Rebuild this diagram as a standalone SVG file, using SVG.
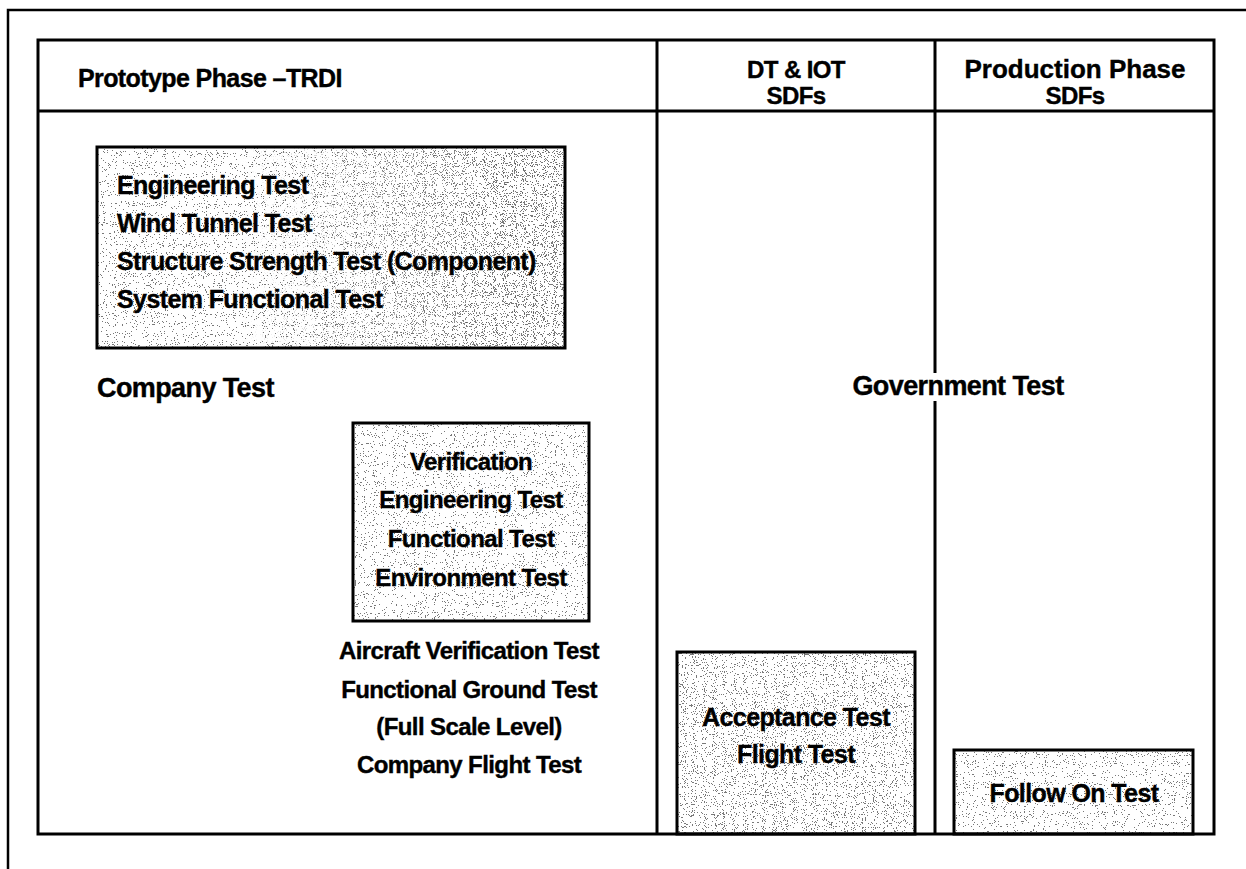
<svg xmlns="http://www.w3.org/2000/svg" width="1246" height="869" viewBox="0 0 1246 869">
  <style>
    .t { font-family: "Liberation Sans", Arial, Helvetica, sans-serif; font-weight: bold; fill: #000; stroke: #000; stroke-width: 0.4px; letter-spacing: -0.6px; }
    .s25 { font-size: 25px; }
    .s24 { font-size: 24px; }
    .s27 { font-size: 27px; }
    .wide { font-size: 26px; letter-spacing: 0; }
    .mid { text-anchor: middle; }
    .frame { fill: none; stroke: #000; stroke-width: 2.5; }
    .grid { fill: none; stroke: #000; stroke-width: 3; }
    .box { fill: none; stroke: #000; stroke-width: 3; }
    .paper { fill: #fff; }
    .light { fill: #fff; filter: url(#stipple-light); }
    .dense { fill: #fff; filter: url(#stipple-dense); }
  </style>
  <defs>
    <!-- sparse grey speckle: halftone fill of the shaded boxes -->
    <filter id="stipple-light" x="0" y="0" width="1" height="1" filterUnits="objectBoundingBox" color-interpolation-filters="sRGB">
      <feTurbulence type="fractalNoise" baseFrequency="0.9" numOctaves="2" seed="11" result="noise"/>
      <feColorMatrix in="noise" type="matrix"
        values="0 0 0 0 0.3
                0 0 0 0 0.3
                0 0 0 0 0.3
                -5 0 0 0 2.1" result="mask"/>
      <feComponentTransfer in="mask">
        <feFuncA type="discrete" tableValues="0 0.75"/>
      </feComponentTransfer>
    </filter>
    <!-- heavier speckle for the darker patches -->
    <filter id="stipple-dense" x="0" y="0" width="1" height="1" filterUnits="objectBoundingBox" color-interpolation-filters="sRGB">
      <feTurbulence type="fractalNoise" baseFrequency="0.9" numOctaves="2" seed="29" result="noise"/>
      <feColorMatrix in="noise" type="matrix"
        values="0 0 0 0 0.3
                0 0 0 0 0.3
                0 0 0 0 0.3
                -5 0 0 0 2.3" result="mask"/>
      <feComponentTransfer in="mask">
        <feFuncA type="discrete" tableValues="0 0.75"/>
      </feComponentTransfer>
    </filter>
    <linearGradient id="fade-lr" x1="0" y1="0" x2="1" y2="0">
      <stop offset="0.3" stop-color="#fff" stop-opacity="0"/>
      <stop offset="0.85" stop-color="#fff" stop-opacity="1"/>
    </linearGradient>
    <mask id="toward-right" maskContentUnits="objectBoundingBox">
      <rect width="1" height="1" fill="url(#fade-lr)"/>
    </mask>
  </defs>

  <rect width="1246" height="869" fill="#fff"/>

  <!-- page frame -->
  <g id="page-frame">
    <polyline class="frame" points="8,869 8,10 1246,10"/>
  </g>

  <!-- shaded boxes (drawn first so the grid lines sit on top) -->
  <g id="box-engineering">
    <rect class="paper" x="97" y="147" width="468" height="201"/>
    <rect class="light" x="97" y="147" width="468" height="201"/>
    <rect class="dense" x="97" y="147" width="468" height="201" mask="url(#toward-right)"/>
    <rect class="box" x="97" y="147" width="468" height="201"/>
    <text class="t s25" x="117" y="194">Engineering Test</text>
    <text class="t s25" x="117" y="232">Wind Tunnel Test</text>
    <text class="t s25" x="117" y="270">Structure Strength Test (Component)</text>
    <text class="t s25" x="117" y="308">System Functional Test</text>
  </g>

  <g id="box-verification">
    <rect class="paper" x="353" y="423" width="236" height="198"/>
    <rect class="light" x="353" y="423" width="236" height="198"/>
    <rect class="box" x="353" y="423" width="236" height="198"/>
    <text class="t s24 mid" x="471" y="470">Verification</text>
    <text class="t s24 mid" x="471" y="508">Engineering Test</text>
    <text class="t s24 mid" x="471" y="547">Functional Test</text>
    <text class="t s24 mid" x="471" y="586">Environment Test</text>
  </g>

  <g id="box-acceptance">
    <rect class="paper" x="677" y="652" width="238" height="182"/>
    <rect class="dense" x="677" y="652" width="238" height="182"/>
    <rect class="box" x="677" y="652" width="238" height="182"/>
    <text class="t s25 mid" x="796" y="726">Acceptance Test</text>
    <text class="t s25 mid" x="796" y="763">Flight Test</text>
  </g>

  <g id="box-follow-on">
    <rect class="paper" x="954" y="750" width="239" height="84"/>
    <rect class="light" x="954" y="750" width="239" height="84"/>
    <rect class="box" x="954" y="750" width="239" height="84"/>
    <text class="t s25 mid" x="1074" y="802">Follow On Test</text>
  </g>

  <!-- table grid -->
  <g id="connectors">
    <rect class="grid" x="38" y="40" width="1176" height="794"/>
    <line class="grid" x1="38" y1="111" x2="1214" y2="111"/>
    <line class="grid" x1="657" y1="40" x2="657" y2="834"/>
    <line class="grid" x1="935" y1="40" x2="935" y2="834"/>
  </g>

  <!-- column headings -->
  <g id="head-prototype">
    <text class="t s25" x="78" y="87">Prototype Phase –TRDI</text>
  </g>
  <g id="head-dt-iot">
    <text class="t s24 mid" x="796" y="78">DT &amp; IOT</text>
    <text class="t s24 mid" x="796" y="104">SDFs</text>
  </g>
  <g id="head-production">
    <text class="t wide mid" x="1075" y="78">Production Phase</text>
    <text class="t s24 mid" x="1075" y="104">SDFs</text>
  </g>

  <!-- free labels -->
  <g id="label-company">
    <text class="t s27" x="97" y="397">Company Test</text>
  </g>
  <g id="label-government">
    <rect class="paper" x="926" y="373" width="18" height="28"/>
    <text class="t s27 mid" x="958" y="395">Government Test</text>
  </g>
  <g id="label-company-aircraft">
    <text class="t s24 mid" x="469" y="659">Aircraft Verification Test</text>
    <text class="t s24 mid" x="469" y="698">Functional Ground Test</text>
    <text class="t s24 mid" x="469" y="735">(Full Scale Level)</text>
    <text class="t s24 mid" x="469" y="773">Company Flight Test</text>
  </g>
</svg>
